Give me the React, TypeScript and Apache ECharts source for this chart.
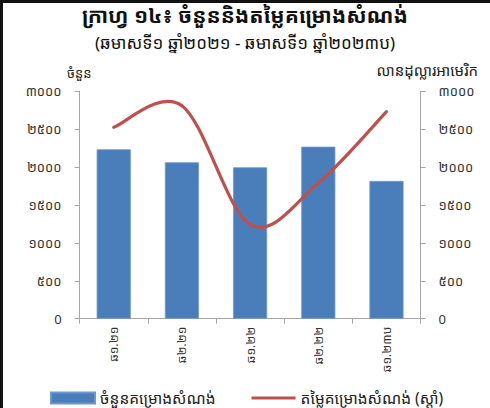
import React, { useEffect, useRef } from "react";
import * as echarts from "echarts";

const categories = ["ឆ១.២១", "ឆ២.២១", "ឆ១.២២", "ឆ២.២២", "ឆ១.២៣ប"];
const projectCounts = [2235, 2063, 1997, 2269, 1817];
const projectValues = [2525, 2810, 1240, 1790, 2731];
const tickLabels = ["0", "៥០០", "១០០០", "១៥០០", "២០០០", "២៥០០", "៣០០០"];
const titleText = "ក្រាហ្វ ១៤៖ ចំនួននិងតម្លៃគម្រោងសំណង់";
const subtitleText = "(ឆមាសទី១ ឆ្នាំ២០២១ - ឆមាសទី១ ឆ្នាំ២០២៣ប)";
const leftAxisName = "ចំនួន";
const rightAxisName = "លានដុល្លារអាមេរិក";
const barName = "ចំនួនគម្រោងសំណង់";
const lineName = "តម្លៃគម្រោងសំណង់ (ស្តាំ)";

const FONT = "'Noto Sans Khmer', 'Khmer OS', 'Khmer OS System', 'Noto Sans', sans-serif";
const LINE_COLOR = "#c0504d";

export default function App() {
  const ref = useRef<HTMLDivElement>(null);
  useEffect(() => {
    if (!ref.current) return;
    const chart = echarts.init(ref.current, null, { renderer: "svg" });
    const tickFmt = (v: number) => tickLabels[Math.round(v / 500)] ?? String(v);
    const yAxisCommon = {
      type: "value" as const,
      min: 0,
      max: 3000,
      interval: 500,
      splitLine: { show: false },
      axisLine: { show: true, lineStyle: { color: "#a6a6a6" } },
      axisTick: { show: true, length: 5, lineStyle: { color: "#a6a6a6" } },
      axisLabel: { formatter: tickFmt, color: "#333", fontSize: 13, fontFamily: FONT, margin: 18 },
    };
    const n = projectValues.length;
    chart.setOption({
      animation: false,
      textStyle: { fontFamily: FONT },
      title: [
        {
          text: titleText,
          left: "center",
          top: -1,
          textStyle: { fontSize: 21, fontWeight: "bold", color: "#111", fontFamily: FONT },
        },
        {
          text: subtitleText,
          left: "center",
          top: 29,
          textStyle: { fontSize: 17, fontWeight: "normal", color: "#111", fontFamily: FONT },
        },
        {
          text: leftAxisName,
          left: 62,
          top: 61,
          textStyle: { fontSize: 13, fontWeight: "normal", color: "#222", fontFamily: FONT },
        },
        {
          text: rightAxisName,
          right: 7,
          top: 57,
          textStyle: { fontSize: 15, fontWeight: "normal", color: "#222", fontFamily: FONT },
        },
      ],
      grid: { left: 79.6, right: 69.4, top: 91.3, bottom: 89.3 },
      legend: {
        top: 390,
        left: 50,
        itemWidth: 44,
        itemHeight: 11,
        itemGap: 36,
        padding: 0,
        textStyle: { fontSize: 15.5, lineHeight: 16, color: "#222", fontFamily: FONT },
        data: [
          { name: barName, icon: "rect" },
          { name: lineName, icon: "path://M0,0 L44,0 L44,3 L0,3 Z", itemStyle: { color: LINE_COLOR } },
        ],
      },
      xAxis: {
        type: "category",
        data: categories,
        axisLine: { show: true, lineStyle: { color: "#a6a6a6" } },
        axisTick: { show: true, alignWithLabel: false, length: 5, lineStyle: { color: "#a6a6a6" } },
        axisLabel: { rotate: 90, color: "#333", fontSize: 12, fontFamily: FONT, margin: 8 },
      },
      yAxis: [
        { ...yAxisCommon, position: "left" },
        { ...yAxisCommon, position: "right" },
      ],
      series: [
        {
          name: barName,
          type: "bar",
          data: projectCounts,
          yAxisIndex: 0,
          barWidth: "50%",
          itemStyle: { color: "#4a7ebb", borderColor: "#6f97cc", borderWidth: 0.8 },
        },
        {
          name: lineName,
          type: "custom",
          yAxisIndex: 1,
          z: 5,
          data: projectValues.map((v, i) => [i, v]),
          itemStyle: { color: LINE_COLOR },
          renderItem: (params: any, api: any) => {
            const i = params.dataIndex;
            if (i >= n - 1) return null;
            const pt = (k: number) => {
              const kk = Math.max(0, Math.min(n - 1, k));
              return api.coord([kk, projectValues[kk]]);
            };
            const p0 = pt(i - 1);
            const p1 = pt(i);
            const p2 = pt(i + 1);
            const p3 = pt(i + 2);
            const cp1 = [p1[0] + (p2[0] - p0[0]) / 6, p1[1] + (p2[1] - p0[1]) / 6];
            const cp2 = [p2[0] - (p3[0] - p1[0]) / 6, p2[1] - (p3[1] - p1[1]) / 6];
            return {
              type: "bezierCurve",
              shape: {
                x1: p1[0], y1: p1[1],
                x2: p2[0], y2: p2[1],
                cpx1: cp1[0], cpy1: cp1[1],
                cpx2: cp2[0], cpy2: cp2[1],
              },
              style: { stroke: LINE_COLOR, lineWidth: 3.2, fill: "none", lineCap: "round" },
            };
          },
        },
      ],
      graphic: [
        { type: "rect", left: 0, top: 0, shape: { width: 3, height: 408 }, style: { fill: "#111" } },
        { type: "rect", left: 0, top: 0, shape: { width: 490, height: 3 }, style: { fill: "#111" } },
      ],
    });
    return () => chart.dispose();
  }, []);
  return <div ref={ref} style={{ width: 490, height: 408, position: "absolute", left: 0, top: 0 }} />;
}
